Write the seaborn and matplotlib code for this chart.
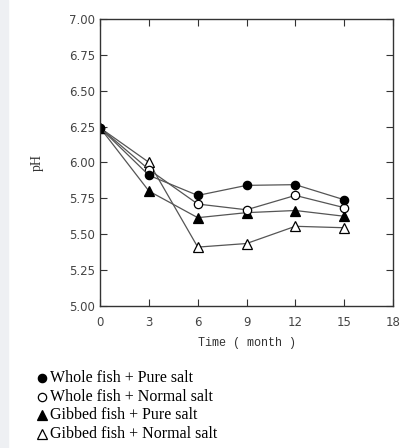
import matplotlib
matplotlib.use('Agg')
import matplotlib.pyplot as plt
import pandas as pd
import seaborn as sns
from matplotlib.lines import Line2D
from matplotlib.patches import Rectangle

sns.set_style('ticks')

# Datos
months = [0, 3, 6, 9, 12, 15]
whole_pure = [6.24, 5.91, 5.77, 5.84, 5.845, 5.74]
whole_normal = [6.24, 5.95, 5.71, 5.67, 5.77, 5.685]
gibbed_pure = [6.24, 5.80, 5.615, 5.65, 5.665, 5.625]
gibbed_normal = [6.24, 6.00, 5.41, 5.435, 5.555, 5.545]

labels = ['Whole fish + Pure salt', 'Whole fish + Normal salt',
          'Gibbed fish + Pure salt', 'Gibbed fish + Normal salt']
series = [whole_pure, whole_normal, gibbed_pure, gibbed_normal]
markers = ['o', 'o', '^', '^']
fills = ['black', 'white', 'black', 'white']

rows = []
for lab, vals in zip(labels, series):
    for m, v in zip(months, vals):
        rows.append({'month': m, 'pH': v, 'grupo': lab})
df = pd.DataFrame(rows)

fig = plt.figure(figsize=(4.14, 4.48), dpi=100)
fig.patches.append(Rectangle((0, 0), 8 / 414, 1, transform=fig.transFigure,
                             color='#eef0f3', zorder=0))
ax = fig.add_axes([0.242, 0.317, 0.707, 0.641])

# dibujo al reves para que el circulo negro quede arriba en t=0
for lab, mk, fc in reversed(list(zip(labels, markers, fills))):
    sub = df[df['grupo'] == lab]
    sns.lineplot(data=sub, x='month', y='pH', ax=ax, color='#555555',
                 linewidth=0.9, marker=mk, markersize=6 if mk == 'o' else 6.5,
                 markerfacecolor=fc, markeredgecolor='black',
                 markeredgewidth=0.9, legend=False)

ax.set_xlim(0, 18)
ax.set_ylim(5.0, 7.0)
ax.set_xticks([0, 3, 6, 9, 12, 15, 18])
ax.set_yticks([5.0, 5.25, 5.5, 5.75, 6.0, 6.25, 6.5, 6.75, 7.0])
ax.set_yticklabels(['5.00', '5.25', '5.50', '5.75', '6.00', '6.25',
                    '6.50', '6.75', '7.00'])
ax.tick_params(direction='in', top=True, right=True, length=5, width=0.8,
               colors='#333333', labelsize=8.5, labelcolor='#444444')
ax.tick_params(axis='x', pad=7)
for s in ax.spines.values():
    s.set_linewidth(1.0)
    s.set_color('#333333')

ax.set_xlabel('Time ( month )', family='Liberation Mono', fontsize=8.5,
              color='#333333', labelpad=6)
ax.set_ylabel('pH', family='Liberation Serif', fontsize=10,
              color='#333333', labelpad=18)

# Leyenda escrita debajo
y0 = 378
for i, (lab, mk, fc) in enumerate(zip(labels, markers, fills)):
    yy = 1 - (y0 + i * 18.7) / 448
    fig.add_artist(Line2D([42 / 414], [yy], marker=mk, markersize=6 if mk == 'o' else 6.5,
                          markerfacecolor=fc, markeredgecolor='black',
                          markeredgewidth=0.9, linestyle='none',
                          transform=fig.transFigure))
    fig.text(50 / 414, yy, lab, family='Liberation Serif', fontsize=11.5,
             va='center', ha='left', color='black')

fig.savefig('out.png', dpi=100)
